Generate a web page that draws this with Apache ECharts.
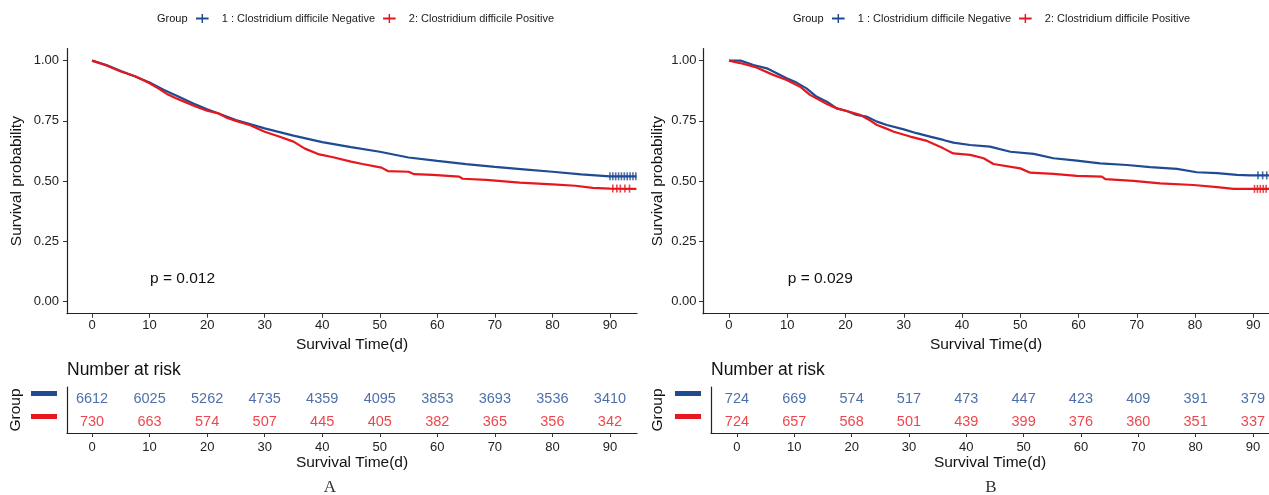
<!DOCTYPE html>
<html>
<head>
<meta charset="utf-8">
<script src="https://cdn.jsdelivr.net/npm/echarts@6/dist/echarts.min.js"></script>
<style>
  html, body { margin: 0; padding: 0; background: #fff; }
  #chart { width: 1269px; height: 495px; }
</style>
</head>
<body>
<div id="chart"></div>
<script>
// survival curves (time in days, survival probability)
const timeA_neg = [0, 2.5, 5, 7.5, 10, 12.5, 15, 17.5, 20, 25, 30, 35, 40, 45, 50, 55, 60, 65, 70, 75, 80, 85, 90, 94.6]
const survA_neg = [1, 0.982, 0.957, 0.934, 0.909, 0.878, 0.851, 0.823, 0.798, 0.754, 0.719, 0.689, 0.662, 0.641, 0.622, 0.598, 0.584, 0.571, 0.559, 0.549, 0.539, 0.528, 0.52, 0.52]

const timeA_pos = [0, 2.5, 5, 7.5, 10, 11.5, 13, 14.5, 16, 18, 20, 22, 23.5, 25, 27.5, 30, 32.5, 35, 37, 39.5, 41.9, 45, 47, 50.3, 51.4, 55, 56, 59.2, 63.8, 64.4, 68.5, 74.3, 80, 84, 87, 90, 94.6]
const survA_pos = [1, 0.98, 0.955, 0.935, 0.906, 0.885, 0.862, 0.845, 0.83, 0.81, 0.792, 0.781, 0.762, 0.75, 0.732, 0.705, 0.685, 0.664, 0.635, 0.611, 0.599, 0.581, 0.571, 0.556, 0.542, 0.539, 0.529, 0.526, 0.519, 0.51, 0.505, 0.494, 0.487, 0.481, 0.472, 0.469, 0.468]

const timeB_neg = [0, 2, 4.2, 6.5, 8.2, 9.9, 11.6, 13.3, 15, 16.8, 18.5, 20.2, 21.9, 23.6, 25.4, 27.1, 30, 32.2, 34.5, 36.8, 38.5, 41.4, 44.8, 48.3, 52.3, 55.7, 59.7, 63.7, 68.3, 72.3, 76.9, 80.3, 83.8, 87.2, 89.5, 92.7]
const survB_neg = [1, 1, 0.982, 0.968, 0.948, 0.927, 0.909, 0.885, 0.851, 0.83, 0.802, 0.791, 0.775, 0.768, 0.747, 0.733, 0.715, 0.699, 0.685, 0.671, 0.66, 0.65, 0.643, 0.622, 0.613, 0.595, 0.585, 0.574, 0.567, 0.558, 0.551, 0.537, 0.533, 0.526, 0.524, 0.524]

const timeB_pos = [0, 1.9, 4.7, 7.6, 9.9, 12.2, 13.9, 16.8, 18.5, 20.2, 22.5, 24, 25.4, 26.8, 28.3, 31.1, 34, 36.8, 38.5, 41.4, 43.7, 45.4, 50, 51.7, 55.7, 59.7, 64, 64.6, 69.4, 74, 79.7, 83.8, 86.6, 92.7]
const survB_pos = [1, 0.99, 0.972, 0.941, 0.92, 0.892, 0.858, 0.82, 0.802, 0.791, 0.775, 0.755, 0.733, 0.72, 0.705, 0.685, 0.667, 0.636, 0.615, 0.609, 0.595, 0.571, 0.553, 0.535, 0.53, 0.522, 0.519, 0.508, 0.501, 0.491, 0.484, 0.475, 0.468, 0.468]

// censoring marks (times)
const censA_neg = [90, 90.5, 91, 91.5, 92, 92.5, 93, 93.5, 94, 94.5]
const censA_pos = [90.5, 91.2, 91.8, 92.6, 93.4]
const censB_neg = [90.8, 91.6, 92.3]
const censB_pos = [90.2, 90.7, 91.2, 91.7, 92.2]

// number at risk
const riskTimes = [0, 10, 20, 30, 40, 50, 60, 70, 80, 90]
const riskA_neg = [6612, 6025, 5262, 4735, 4359, 4095, 3853, 3693, 3536, 3410]
const riskA_pos = [730, 663, 574, 507, 445, 405, 382, 365, 356, 342]
const riskB_neg = [724, 669, 574, 517, 473, 447, 423, 409, 391, 379]
const riskB_pos = [724, 657, 568, 501, 439, 399, 376, 360, 351, 337]

const yTicks = [0, 0.25, 0.5, 0.75, 1]
const groupNames = ['1 : Clostridium difficile Negative', '2: Clostridium difficile Positive']
const pValues = ['p = 0.012', 'p = 0.029']

const BLUE = '#1F4B93'
const RED = '#E7171E'
const FONT = "'Liberation Sans', Arial, sans-serif"
const AXIS = '#222'

// value of a curve at time t (last reading at or before t)
function survAt(ts, vs, t) {
  let v = vs[0]
  for (let i = 0; i < ts.length; i++) {
    if (ts[i] <= t) v = vs[i]
  }
  return v
}

function zip(a, b) {
  return a.map((x, i) => [x, b[i]])
}

function xAxisOf(gridIndex, min, max, labelMargin, nameGap) {
  return {
    gridIndex, type: 'value', min, max, position: 'bottom',
    axisLine: { show: true, onZero: false, lineStyle: { color: AXIS, width: 1.2 } },
    axisTick: { show: true, customValues: riskTimes, length: 4, lineStyle: { color: '#333', width: 1 } },
    axisLabel: { customValues: riskTimes, fontSize: 13, color: '#222', margin: labelMargin, fontFamily: FONT },
    splitLine: { show: false },
    name: 'Survival Time(d)', nameLocation: 'middle', nameGap,
    nameTextStyle: { fontSize: 15.5, color: '#111', fontFamily: FONT }
  }
}

function mainY(gridIndex, labelMargin, nameGap) {
  return {
    gridIndex, type: 'value', min: -0.05, max: 1.05,
    axisLine: { show: true, onZero: false, lineStyle: { color: AXIS, width: 1.2 } },
    axisTick: { show: true, customValues: yTicks, length: 4, lineStyle: { color: '#333', width: 1 } },
    axisLabel: { customValues: yTicks, fontSize: 13, color: '#222', margin: labelMargin, fontFamily: FONT,
      formatter: v => v.toFixed(2) },
    splitLine: { show: false },
    name: 'Survival probability', nameLocation: 'middle', nameGap,
    nameTextStyle: { fontSize: 15.5, color: '#111', fontFamily: FONT }
  }
}

function tableY(gridIndex, nameGap) {
  return {
    gridIndex, type: 'category', data: ['2', '1'],
    axisLine: { show: true, onZero: false, lineStyle: { color: AXIS, width: 1.2 } },
    axisTick: { show: false },
    axisLabel: {
      margin: 10, padding: [0, 0, 10, 0],
      formatter: v => (v === '1' ? '{b1|}' : '{b2|}'),
      rich: {
        b1: { width: 26, height: 5, backgroundColor: BLUE },
        b2: { width: 26, height: 5, backgroundColor: RED }
      }
    },
    name: 'Group', nameLocation: 'middle', nameGap,
    nameTextStyle: { fontSize: 15.5, color: '#111', fontFamily: FONT }
  }
}

function curve(name, axis, ts, vs, color) {
  return {
    name, type: 'line', xAxisIndex: axis, yAxisIndex: axis,
    data: zip(ts, vs), symbol: 'none',
    lineStyle: { color, width: 2.2 }, itemStyle: { color },
    silent: true, z: 3
  }
}

function censor(axis, times, ts, vs, color, id) {
  return {
    name: 'cens' + id, type: 'scatter', xAxisIndex: axis, yAxisIndex: axis,
    data: times.map(t => [t, survAt(ts, vs, t)]),
    symbol: 'rect', symbolSize: [1.6, 8], itemStyle: { color }, silent: true, z: 4
  }
}

function riskRow(axis, row, counts, color, id) {
  return {
    name: 'risk' + id, type: 'scatter', xAxisIndex: axis, yAxisIndex: axis,
    data: riskTimes.map((t, i) => [t, row, counts[i]]),
    symbolSize: 0, silent: true,
    label: { show: true, position: 'inside', formatter: p => p.value[2],
      fontSize: 14.5, color, fontFamily: FONT }
  }
}

function legendOf(left) {
  return {
    left, top: 13, padding: 0, orient: 'horizontal',
    data: groupNames, itemWidth: 13, itemHeight: 9, itemGap: 8,
    icon: 'path://M0,3.8H14V6.2H0Z M6.2,0H7.8V10H6.2Z',
    selectedMode: false,
    formatter: n => '{s|}' + n,
    textStyle: { fontSize: 11, color: '#222', fontFamily: FONT, rich: { s: { width: 8 } } }
  }
}

function label(x, y, text, size, extra) {
  return {
    type: 'text', x, y, silent: true,
    style: Object.assign({ text, fontSize: size, fontFamily: FONT, fill: '#111', verticalAlign: 'middle' }, extra || {})
  }
}

const chart = echarts.init(document.getElementById('chart'))

chart.setOption({
  animation: false,
  backgroundColor: '#fff',
  grid: [
    { left: 67, top: 48.6, width: 570, height: 265.1 },
    { left: 67, top: 387, width: 570, height: 46 },
    { left: 703, top: 48.6, width: 566, height: 265.1 },
    { left: 711, top: 387, width: 558, height: 46 }
  ],
  xAxis: [
    xAxisOf(0, -4.35, 94.7, 5, 20),
    xAxisOf(1, -4.35, 94.7, 8, 22),
    xAxisOf(2, -4.46, 92.69, 5, 20),
    xAxisOf(3, -4.53, 92.8, 8, 22)
  ],
  yAxis: [
    mainY(0, 8, 42),
    tableY(1, 43),
    mainY(2, 6.5, 37),
    tableY(3, 45)
  ],
  legend: [legendOf(196), legendOf(832)],
  graphic: [
    label(157, 19, 'Group', 11),
    label(793, 19, 'Group', 11),
    label(150, 278.3, pValues[0], 15.5),
    label(787.7, 278.3, pValues[1], 15.5),
    label(67, 370, 'Number at risk', 17.5),
    label(711, 370, 'Number at risk', 17.5),
    label(330, 488, 'A', 17, { fontFamily: "'Liberation Serif', 'DejaVu Serif', serif", align: 'center', fill: '#333' }),
    label(991, 488, 'B', 17, { fontFamily: "'Liberation Serif', 'DejaVu Serif', serif", align: 'center', fill: '#333' })
  ],
  series: [
    curve(groupNames[0], 0, timeA_neg, survA_neg, BLUE),
    curve(groupNames[1], 0, timeA_pos, survA_pos, RED),
    censor(0, censA_neg, timeA_neg, survA_neg, BLUE, 'A1'),
    censor(0, censA_pos, timeA_pos, survA_pos, RED, 'A2'),
    riskRow(1, '1', riskA_neg, BLUE, 'A1'),
    riskRow(1, '2', riskA_pos, RED, 'A2'),
    curve(groupNames[0], 2, timeB_neg, survB_neg, BLUE),
    curve(groupNames[1], 2, timeB_pos, survB_pos, RED),
    censor(2, censB_neg, timeB_neg, survB_neg, BLUE, 'B1'),
    censor(2, censB_pos, timeB_pos, survB_pos, RED, 'B2'),
    riskRow(3, '1', riskB_neg, BLUE, 'B1'),
    riskRow(3, '2', riskB_pos, RED, 'B2')
  ]
})
</script>
</body>
</html>
